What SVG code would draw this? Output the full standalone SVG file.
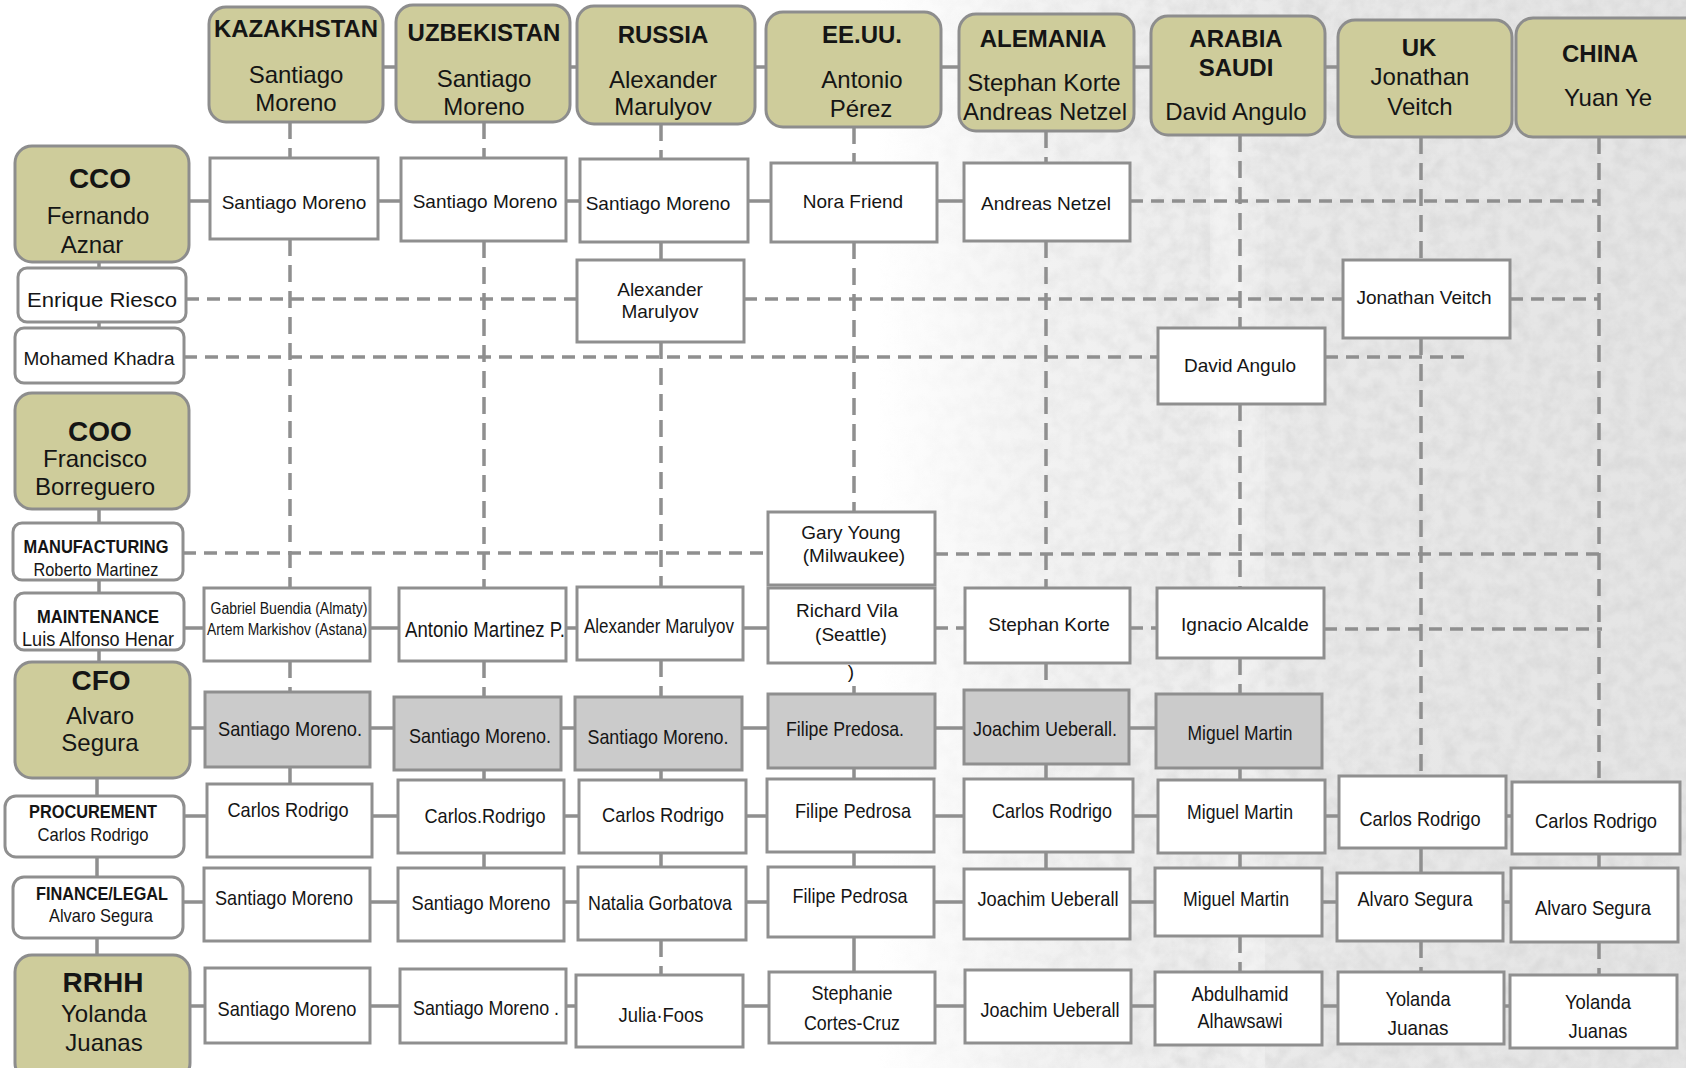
<svg xmlns="http://www.w3.org/2000/svg" width="1686" height="1068" viewBox="0 0 1686 1068">
<style>
.hb{fill:#cecc9b;stroke:#8d8d8d;stroke-width:3}
.wb{fill:#ffffff;stroke:#8f8f8f;stroke-width:3}
.gb{fill:#cbcbcb;stroke:#8f8f8f;stroke-width:3}
.c{stroke:#8f8f8f;stroke-width:3.5;fill:none}
.dh{stroke:#8f8f8f;stroke-width:3.5;fill:none;stroke-dasharray:13 8}
.dv{stroke:#8f8f8f;stroke-width:3.5;fill:none;stroke-dasharray:17 9}
text{font-family:"Liberation Sans",Arial,sans-serif;fill:#151515;text-anchor:middle}
.b{font-weight:bold}
.h24{font-size:24px}
.h28{font-size:28px;font-weight:bold}
.s19{font-size:19px}
.s21{font-size:21px}
.s16{font-size:16px}
</style>
<defs>
<linearGradient id="bgG" x1="0" y1="0" x2="1686" y2="0" gradientUnits="userSpaceOnUse">
<stop offset="0.52" stop-color="#ffffff"/>
<stop offset="0.62" stop-color="#f2f2f2"/>
<stop offset="0.78" stop-color="#e9e9e9"/>
<stop offset="1" stop-color="#e4e4e4"/>
</linearGradient>
<linearGradient id="maskG" x1="0" y1="0" x2="1686" y2="0" gradientUnits="userSpaceOnUse">
<stop offset="0.52" stop-color="#000"/>
<stop offset="0.72" stop-color="#fff"/>
</linearGradient>
<mask id="bgMask"><rect width="1686" height="1068" fill="url(#maskG)"/></mask>
<filter id="noise" x="0" y="0" width="100%" height="100%">
<feTurbulence type="fractalNoise" baseFrequency="0.07" numOctaves="3" seed="5"/>
<feColorMatrix type="matrix" values="0 0 0 0 0.6 0 0 0 0 0.6 0 0 0 0 0.6 1.4 0 0 0 -0.45"/>
</filter>
<filter id="blur"><feGaussianBlur stdDeviation="16"/></filter>
</defs>

<g id="background">
<rect width="1686" height="1068" fill="url(#bgG)"/>
<rect width="1686" height="1068" filter="url(#noise)" mask="url(#bgMask)" opacity="0.55"/>
<path d="M1215,120 C1250,300 1240,500 1235,700 C1232,850 1250,950 1260,1068" stroke="#ffffff" stroke-width="36" fill="none" opacity="0.45" filter="url(#blur)"/>
</g>

<g id="connectors">
<path class="c" d="M383,67H396M570,67H577M755,67H766M941,67H959M1134,67H1151M1325,67H1338"/>
<path class="c" d="M99,262V268M99,322V328M99,509V523M99,580V593M99,650V662M97,778V796M97,857V877M97,938V955"/>
<path class="dv" d="M290,122V158M290,239V588M290,661V692"/>
<path class="c" d="M290,767V784"/>
<path class="dv" d="M484,122V158M484,241V588M484,661V697"/>
<path class="c" d="M484,770V780M484,853V868"/>
<path class="dv" d="M661,124V159M661,342V587M661,660V697M661,940V975"/>
<path class="c" d="M661,242V260M661,770V780M661,853V867"/>
<path class="dv" d="M854,127V163M854,242V512"/>
<path class="c" d="M854,686V694M854,768V779M854,852V867M854,937V972"/>
<path class="dv" d="M1046,131V163M1046,241V588M1046,663V690"/>
<path class="c" d="M1046,764V779M1046,852V869"/>
<path class="dv" d="M1240,135V328M1240,404V588M1240,658V694M1240,936V972"/>
<path class="c" d="M1240,768V780M1240,853V868"/>
<path class="dv" d="M1421,137V260M1421,338V776M1421,941V972"/>
<path class="c" d="M1421,848V873"/>
<path class="dv" d="M1599,137V782M1599,942V975"/>
<path class="c" d="M1599,854V868"/>
<path class="c" d="M189,201H210M378,201H401M566,201H580M748,201H771M937,201H964"/>
<path class="dh" d="M1130,201H1599"/>
<path class="dh" d="M186,299H577M744,299H1343M1510,299H1599"/>
<path class="dh" d="M184,357H1158M1325,357H1470"/>
<path class="dh" d="M183,553H768M935,554H1599"/>
<path class="c" d="M184,628H204M370,628H399M566,628H577M743,628H768"/>
<path class="dh" d="M935,628H965M1130,628H1157M1324,629H1602"/>
<path class="c" d="M190,728H205M370,728H394M561,728H575M742,728H768M935,728H964M1129,728H1156"/>
<path class="c" d="M184,816H207M372,816H398M564,816H579M746,816H767M934,816H964M1133,816H1158M1325,816H1339M1506,816H1512"/>
<path class="c" d="M183,902H204M370,902H398M564,902H578M746,902H768M934,902H964M1130,902H1155M1322,902H1337M1503,902H1511"/>
<path class="c" d="M190,1006H205M370,1006H400M566,1006H576M743,1006H769M935,1006H965M1131,1006H1155M1322,1006H1338M1504,1006H1510"/>
</g>

<g id="kazakhstan"><rect class="hb" x="209" y="7" width="174" height="115" rx="17"/>
<text class="b h24" x="296" y="37" textLength="164" lengthAdjust="spacingAndGlyphs">KAZAKHSTAN</text>
<text class="h24" x="296" y="83">Santiago</text><text class="h24" x="296" y="111">Moreno</text></g>
<g id="uzbekistan"><rect class="hb" x="396" y="5" width="174" height="117" rx="17"/>
<text class="b h24" x="484" y="41">UZBEKISTAN</text>
<text class="h24" x="484" y="87">Santiago</text><text class="h24" x="484" y="115">Moreno</text></g>
<g id="russia"><rect class="hb" x="577" y="6" width="178" height="118" rx="17"/>
<text class="b h24" x="663" y="43">RUSSIA</text>
<text class="h24" x="663" y="88">Alexander</text><text class="h24" x="663" y="115">Marulyov</text></g>
<g id="eeuu"><rect class="hb" x="766" y="12" width="175" height="115" rx="17"/>
<text class="b h24" x="862" y="43">EE.UU.</text>
<text class="h24" x="862" y="88">Antonio</text><text class="h24" x="861" y="117">Pérez</text></g>
<g id="alemania"><rect class="hb" x="959" y="14" width="175" height="117" rx="17"/>
<text class="b h24" x="1043" y="47">ALEMANIA</text>
<text class="h24" x="1044" y="91">Stephan Korte</text><text class="h24" x="1045" y="120">Andreas Netzel</text></g>
<g id="arabia"><rect class="hb" x="1151" y="16" width="174" height="119" rx="17"/>
<text class="b h24" x="1236" y="47">ARABIA</text><text class="b h24" x="1236" y="76">SAUDI</text>
<text class="h24" x="1236" y="120">David Angulo</text></g>
<g id="uk"><rect class="hb" x="1338" y="20" width="174" height="117" rx="17"/>
<text class="b h24" x="1419" y="56">UK</text>
<text class="h24" x="1420" y="85">Jonathan</text><text class="h24" x="1420" y="115">Veitch</text></g>
<g id="china"><rect class="hb" x="1516" y="18" width="186" height="119" rx="17"/>
<text class="b h24" x="1600" y="62">CHINA</text>
<text class="h24" x="1608" y="106">Yuan Ye</text></g>

<g id="cco"><rect class="hb" x="15" y="146" width="174" height="116" rx="17"/>
<text class="h28" x="100" y="188">CCO</text>
<text class="h24" x="98" y="224">Fernando</text><text class="h24" x="92" y="253">Aznar</text></g>
<g id="enrique"><rect class="wb" x="18" y="268" width="168" height="54" rx="9"/>
<text class="s21" x="102" y="307" textLength="150" lengthAdjust="spacingAndGlyphs">Enrique Riesco</text></g>
<g id="mohamed"><rect class="wb" x="15" y="328" width="169" height="55" rx="9"/>
<text x="99" y="365" style="font-size:18px" textLength="151" lengthAdjust="spacingAndGlyphs">Mohamed  Khadra</text></g>
<g id="coo"><rect class="hb" x="15" y="393" width="174" height="116" rx="17"/>
<text class="h28" x="100" y="441">COO</text>
<text class="h24" x="95" y="467">Francisco</text><text class="h24" x="95" y="495">Borreguero</text></g>
<g id="manufacturing"><rect class="wb" x="13" y="523" width="170" height="57" rx="9"/>
<text class="b s19" x="96" y="553" textLength="145" lengthAdjust="spacingAndGlyphs">MANUFACTURING</text>
<text class="s19" x="96" y="576" textLength="125" lengthAdjust="spacingAndGlyphs">Roberto Martinez</text></g>
<g id="maintenance"><rect class="wb" x="15" y="593" width="169" height="57" rx="9"/>
<text class="b s19" x="98" y="623" textLength="122" lengthAdjust="spacingAndGlyphs">MAINTENANCE</text>
<text class="s21" x="98" y="646" textLength="152" lengthAdjust="spacingAndGlyphs">Luis Alfonso Henar</text></g>
<g id="cfo"><rect class="hb" x="15" y="662" width="175" height="116" rx="17"/>
<text class="h28" x="101" y="690">CFO</text>
<text class="h24" x="100" y="724">Alvaro</text><text class="h24" x="100" y="751">Segura</text></g>
<g id="procurement"><rect class="wb" x="5" y="796" width="179" height="61" rx="11"/>
<text class="b s19" x="93" y="818" textLength="128" lengthAdjust="spacingAndGlyphs">PROCUREMENT</text>
<text class="s19" x="93" y="841" textLength="111" lengthAdjust="spacingAndGlyphs">Carlos Rodrigo</text></g>
<g id="financelegal"><rect class="wb" x="13" y="877" width="170" height="61" rx="11"/>
<text class="b s19" x="102" y="900" textLength="132" lengthAdjust="spacingAndGlyphs">FINANCE/LEGAL</text>
<text class="s19" x="101" y="922" textLength="104" lengthAdjust="spacingAndGlyphs">Alvaro Segura</text></g>
<g id="rrhh"><rect class="hb" x="15" y="955" width="175" height="125" rx="17"/>
<text class="h28" x="103" y="992">RRHH</text>
<text class="h24" x="104" y="1022">Yolanda</text><text class="h24" x="104" y="1051">Juanas</text></g>

<g id="cco-kaz"><rect class="wb" x="210" y="158" width="168" height="81"/><text class="s19" x="294" y="209">Santiago  Moreno</text></g>
<g id="cco-uzb"><rect class="wb" x="401" y="158" width="165" height="83"/><text class="s19" x="485" y="208">Santiago  Moreno</text></g>
<g id="cco-rus"><rect class="wb" x="580" y="159" width="168" height="83"/><text class="s19" x="658" y="210">Santiago  Moreno</text></g>
<g id="cco-eeuu"><rect class="wb" x="771" y="163" width="166" height="79"/><text class="s19" x="853" y="208">Nora Friend</text></g>
<g id="cco-ale"><rect class="wb" x="964" y="163" width="166" height="78"/><text class="s19" x="1046" y="210">Andreas Netzel</text></g>
<g id="enrique-rus"><rect class="wb" x="577" y="260" width="167" height="82"/><text class="s19" x="660" y="296">Alexander</text><text class="s19" x="660" y="318">Marulyov</text></g>
<g id="enrique-uk"><rect class="wb" x="1343" y="260" width="167" height="78"/><text class="s19" x="1424" y="304">Jonathan  Veitch</text></g>
<g id="mohamed-ara"><rect class="wb" x="1158" y="328" width="167" height="76"/><text class="s19" x="1240" y="372">David Angulo</text></g>
<g id="manuf-eeuu"><rect class="wb" x="768" y="512" width="167" height="73"/><text class="s19" x="851" y="539">Gary Young</text><text class="s19" x="854" y="562">(Milwaukee)</text></g>

<g id="maint-kaz"><rect class="wb" x="204" y="588" width="166" height="73"/>
<text class="s16" x="289" y="614" textLength="157" lengthAdjust="spacingAndGlyphs">Gabriel Buendia (Almaty)</text>
<text class="s16" x="287" y="635" textLength="160" lengthAdjust="spacingAndGlyphs">Artem Markishov (Astana)</text></g>
<g id="maint-uzb"><rect class="wb" x="399" y="588" width="167" height="73"/><text x="485" y="637" style="font-size:22px" textLength="160" lengthAdjust="spacingAndGlyphs">Antonio Martinez  P.</text></g>
<g id="maint-rus"><rect class="wb" x="577" y="587" width="166" height="73"/><text class="s21" x="659" y="633" textLength="150" lengthAdjust="spacingAndGlyphs">Alexander Marulyov</text></g>
<g id="maint-eeuu"><rect class="wb" x="768" y="588" width="167" height="75"/><text class="s19" x="847" y="617">Richard Vila</text><text class="s19" x="851" y="641">(Seattle)</text></g>
<text class="s19" x="851" y="678">)</text>
<g id="maint-ale"><rect class="wb" x="965" y="588" width="165" height="75"/><text class="s19" x="1049" y="631">Stephan  Korte</text></g>
<g id="maint-ara"><rect class="wb" x="1157" y="588" width="167" height="70"/><text class="s19" x="1245" y="631">Ignacio Alcalde</text></g>

<g id="cfo-kaz"><rect class="gb" x="205" y="692" width="165" height="75"/><text class="s21" x="290" y="736" textLength="144" lengthAdjust="spacingAndGlyphs">Santiago Moreno.</text></g>
<g id="cfo-uzb"><rect class="gb" x="394" y="697" width="167" height="73"/><text class="s21" x="480" y="743" textLength="142" lengthAdjust="spacingAndGlyphs">Santiago Moreno.</text></g>
<g id="cfo-rus"><rect class="gb" x="575" y="697" width="167" height="73"/><text class="s21" x="658" y="744" textLength="141" lengthAdjust="spacingAndGlyphs">Santiago Moreno.</text></g>
<g id="cfo-eeuu"><rect class="gb" x="768" y="694" width="167" height="74"/><text class="s21" x="845" y="736" textLength="118" lengthAdjust="spacingAndGlyphs">Filipe Predosa.</text></g>
<g id="cfo-ale"><rect class="gb" x="964" y="690" width="165" height="74"/><text class="s21" x="1045" y="736" textLength="144" lengthAdjust="spacingAndGlyphs">Joachim Ueberall.</text></g>
<g id="cfo-ara"><rect class="gb" x="1156" y="694" width="166" height="74"/><text class="s21" x="1240" y="740" textLength="105" lengthAdjust="spacingAndGlyphs">Miguel Martin</text></g>

<g id="proc-kaz"><rect class="wb" x="207" y="784" width="165" height="73"/><text class="s21" x="288" y="817" textLength="121" lengthAdjust="spacingAndGlyphs">Carlos Rodrigo</text></g>
<g id="proc-uzb"><rect class="wb" x="398" y="780" width="166" height="73"/><text class="s21" x="485" y="823" textLength="121" lengthAdjust="spacingAndGlyphs">Carlos.Rodrigo</text></g>
<g id="proc-rus"><rect class="wb" x="579" y="780" width="167" height="73"/><text class="s21" x="663" y="822" textLength="122" lengthAdjust="spacingAndGlyphs">Carlos Rodrigo</text></g>
<g id="proc-eeuu"><rect class="wb" x="767" y="779" width="167" height="73"/><text class="s21" x="853" y="818" textLength="116" lengthAdjust="spacingAndGlyphs">Filipe Pedrosa</text></g>
<g id="proc-ale"><rect class="wb" x="964" y="779" width="169" height="73"/><text class="s21" x="1052" y="818" textLength="120" lengthAdjust="spacingAndGlyphs">Carlos Rodrigo</text></g>
<g id="proc-ara"><rect class="wb" x="1158" y="780" width="167" height="73"/><text class="s21" x="1240" y="819" textLength="106" lengthAdjust="spacingAndGlyphs">Miguel Martin</text></g>
<g id="proc-uk"><rect class="wb" x="1339" y="776" width="167" height="72"/><text class="s21" x="1420" y="826" textLength="121" lengthAdjust="spacingAndGlyphs">Carlos Rodrigo</text></g>
<g id="proc-china"><rect class="wb" x="1512" y="782" width="168" height="72"/><text class="s21" x="1596" y="828" textLength="122" lengthAdjust="spacingAndGlyphs">Carlos Rodrigo</text></g>

<g id="fl-kaz"><rect class="wb" x="204" y="868" width="166" height="73"/><text class="s21" x="284" y="905" textLength="138" lengthAdjust="spacingAndGlyphs">Santiago Moreno</text></g>
<g id="fl-uzb"><rect class="wb" x="398" y="868" width="166" height="73"/><text class="s21" x="481" y="910" textLength="139" lengthAdjust="spacingAndGlyphs">Santiago Moreno</text></g>
<g id="fl-rus"><rect class="wb" x="578" y="867" width="168" height="73"/><text class="s21" x="660" y="910" textLength="144" lengthAdjust="spacingAndGlyphs">Natalia Gorbatova</text></g>
<g id="fl-eeuu"><rect class="wb" x="768" y="867" width="166" height="70"/><text class="s21" x="850" y="903" textLength="115" lengthAdjust="spacingAndGlyphs">Filipe Pedrosa</text></g>
<g id="fl-ale"><rect class="wb" x="964" y="869" width="166" height="70"/><text class="s21" x="1048" y="906" textLength="141" lengthAdjust="spacingAndGlyphs">Joachim Ueberall</text></g>
<g id="fl-ara"><rect class="wb" x="1155" y="868" width="167" height="68"/><text class="s21" x="1236" y="906" textLength="106" lengthAdjust="spacingAndGlyphs">Miguel Martin</text></g>
<g id="fl-uk"><rect class="wb" x="1337" y="873" width="166" height="68"/><text class="s21" x="1415" y="906" textLength="115" lengthAdjust="spacingAndGlyphs">Alvaro Segura</text></g>
<g id="fl-china"><rect class="wb" x="1511" y="868" width="167" height="74"/><text class="s21" x="1593" y="915" textLength="116" lengthAdjust="spacingAndGlyphs">Alvaro Segura</text></g>

<g id="rrhh-kaz"><rect class="wb" x="205" y="968" width="165" height="75"/><text class="s21" x="287" y="1016" textLength="139" lengthAdjust="spacingAndGlyphs">Santiago Moreno</text></g>
<g id="rrhh-uzb"><rect class="wb" x="400" y="969" width="166" height="74"/><text class="s21" x="486" y="1015" textLength="146" lengthAdjust="spacingAndGlyphs">Santiago Moreno .</text></g>
<g id="rrhh-rus"><rect class="wb" x="576" y="975" width="167" height="72"/><text class="s21" x="661" y="1022" textLength="85" lengthAdjust="spacingAndGlyphs">Julia·Foos</text></g>
<g id="rrhh-eeuu"><rect class="wb" x="769" y="972" width="166" height="71"/><text class="s21" x="852" y="1000" textLength="81" lengthAdjust="spacingAndGlyphs">Stephanie</text><text class="s21" x="852" y="1030" textLength="96" lengthAdjust="spacingAndGlyphs">Cortes-Cruz</text></g>
<g id="rrhh-ale"><rect class="wb" x="965" y="970" width="166" height="73"/><text class="s21" x="1050" y="1017" textLength="139" lengthAdjust="spacingAndGlyphs">Joachim Ueberall</text></g>
<g id="rrhh-ara"><rect class="wb" x="1155" y="972" width="167" height="73"/><text class="s21" x="1240" y="1001" textLength="97" lengthAdjust="spacingAndGlyphs">Abdulhamid</text><text class="s21" x="1240" y="1028" textLength="85" lengthAdjust="spacingAndGlyphs">Alhawsawi</text></g>
<g id="rrhh-uk"><rect class="wb" x="1338" y="972" width="166" height="72"/><text class="s21" x="1418" y="1006" textLength="65" lengthAdjust="spacingAndGlyphs">Yolanda</text><text class="s21" x="1418" y="1035" textLength="61" lengthAdjust="spacingAndGlyphs">Juanas</text></g>
<g id="rrhh-china"><rect class="wb" x="1510" y="975" width="167" height="73"/><text class="s21" x="1598" y="1009" textLength="66" lengthAdjust="spacingAndGlyphs">Yolanda</text><text class="s21" x="1598" y="1038" textLength="59" lengthAdjust="spacingAndGlyphs">Juanas</text></g>
</svg>
